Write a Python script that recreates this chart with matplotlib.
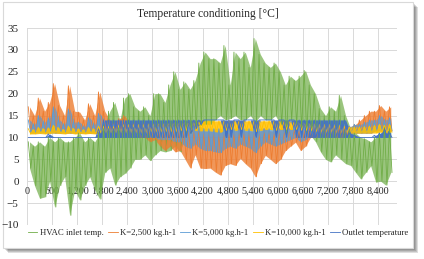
import numpy as np
import matplotlib
matplotlib.use('Agg')
import matplotlib.pyplot as plt
from matplotlib.patches import Rectangle

plt.rcParams['font.family'] = ['Liberation Serif', 'DejaVu Serif']

# hourly year split in 120 h blocks, (high, low) per block
block_hours = 120
inlet_hi = [9, 8, 9, 8, 10, 9, 10, 9, 9, 10, 11, 9, 10, 9, 11, 13, 16, 18, 14, 19,
            20, 17, 16, 17, 15, 20, 20, 18, 22, 25, 21, 22.7, 21, 23, 27, 29.5, 28, 28, 27, 31,
            22, 29.5, 28, 29.5, 26, 32.6, 29, 27, 26, 27, 25, 22, 24, 23, 24, 25.3, 22, 20, 16.6, 15,
            17, 16, 19.6, 15, 12, 11, 10, 9.7, 9, 10, 11, 12.8, 12]
inlet_lo = [3, -1, -3.9, -3.6, 0, -5.9, -1, 1, -7.8, -2, -4.3, -1, 1, -2, -4.1, 2, 3, -0.9, 1, 1.8,
            3, 5, 5, 6, 4.7, 6, 7, 6.7, 7, 8, 6.7, 10, 11, 12, 12.8, 13, 13, 14, 15, 14,
            14.3, 15, 14, 14, 15, 13.5, 15, 14, 14, 15, 13, 10.5, 14, 13, 12, 11, 10.5, 9, 6.7, 5,
            4.4, 6, 5, 4, 3.6, 2, 0.5, 2, 3.5, -0.2, 0, -0.9, 2]

k2500_hi = [17, 15, 19, 16, 18, 22.3, 17.3, 15, 21.8, 16, 15.8, 14, 17.7, 15, 20.4, 16, 14, 13.5, 14.3, 15,
            13, 13.5, 13, 13.5, 13, 13, 12.5, 13, 12.5, 12, 12.5, 12, 12, 12, 12, 11.5, 11.5, 11.5, 11.5, 11.5,
            12, 11.5, 12, 11.5, 11.5, 11.5, 11.5, 12, 11.5, 11.5, 12, 12, 12, 12, 12, 12, 12.5, 13, 13, 13,
            13, 13, 12.5, 12.5, 12.5, 13, 14, 15, 16, 16, 17.3, 16, 17]
k2500_lo = [11, 11, 11.5, 11, 11.5, 11, 11, 11, 11, 11, 11, 11, 11, 11, 11, 11, 11, 11, 10.5, 11,
            10.5, 10.5, 10, 10, 9, 9.5, 8, 7, 8, 6.7, 7, 5, 3, 6, 3, 2.9, 3, 2.1, 1.4, 3.6,
            4, 3.6, 5.2, 4, 3, 1.0, 4, 5.9, 5, 4, 5, 7, 8, 8.9, 7, 8, 10, 10, 10.5, 10,
            10.5, 10, 10, 10.5, 11, 11, 11, 11, 11, 11.5, 11.5, 11, 11.5]

k5000_hi = [14, 13, 15, 13.5, 14.5, 17, 14, 13, 16.5, 13.5, 13.5, 12.5, 14.5, 13, 15.5, 14, 13, 13, 13, 13,
            13, 13, 13, 13, 13, 13, 12.5, 12.5, 12.5, 12.5, 12.5, 12.5, 12.5, 12.5, 12.5, 12, 12, 12, 12, 12,
            12, 12, 12, 12, 12, 12, 12, 12, 12, 12, 12, 12, 12, 12.5, 12.5, 12.5, 13, 13, 13, 13,
            13, 13, 13, 13, 12.5, 13, 13, 13.5, 14, 14, 15, 14, 14.5]
k5000_lo = [11, 11, 11, 11, 11, 11, 11, 11, 11, 11, 11, 11, 11, 11, 11, 11, 11, 11, 11, 11,
            11, 10.5, 10.5, 10.5, 10, 10, 9.5, 9.5, 9.5, 9, 9, 8, 7.5, 8.5, 7.5, 7, 7, 6.7, 6.5, 7.5,
            8, 7.5, 8.5, 8, 7.5, 6.5, 8, 9, 8.5, 8, 8.5, 9, 9.5, 10, 9, 9.5, 10.5, 10.5, 11, 11,
            11, 11, 11, 11, 11, 11, 11, 11, 11, 11.5, 11.5, 11, 11.5]

k10000_hi = [12, 11.8, 12.3, 12, 12.2, 12.8, 12.2, 11.8, 12.6, 12, 12, 11.8, 12.3, 12, 12.6, 12.5, 12.5, 12.5, 12.8, 13,
             13, 13, 13, 13, 13.2, 13.2, 13.3, 13.3, 13.4, 13.5, 13.5, 13.6, 13.7, 13.7, 13.8, 13.8, 13.8, 13.8, 13.8, 13.8,
             13.8, 13.8, 13.8, 13.8, 13.8, 13.8, 13.8, 13.8, 13.8, 13.8, 13.8, 13.7, 13.7, 13.6, 13.5, 13.4, 13.3, 13.2, 13, 13,
             13, 12.8, 12.8, 12.6, 12.4, 12.4, 12.4, 12.5, 12.6, 12.8, 13, 12.8, 13]
k10000_lo = [10.8, 10.8, 10.9, 10.8, 10.9, 11, 10.9, 10.8, 11, 10.8, 10.9, 10.8, 10.9, 10.8, 11, 11, 11, 11, 11, 11,
             11, 11, 11, 11, 11.2, 11.2, 11.2, 11.3, 11.3, 11.3, 11.5, 11.5, 11.2, 11.6, 11.5, 11.5, 11.5, 11.3, 11.2, 11.6,
             11.8, 11.6, 11.8, 11.6, 11.6, 11.3, 11.6, 11.8, 11.8, 11.6, 11.8, 11.8, 11.8, 11.8, 11.6, 11.6, 11.5, 11.3, 11.2, 11.2,
             11.2, 11, 11, 11, 11, 11, 11, 11, 11, 11, 11.2, 11, 11.2]

outlet_hi = [10, 10, 10, 10, 10.8, 10, 10, 10, 10, 10, 10, 10, 10, 10, 12, 14, 14, 14, 14, 14,
             14, 14, 14, 14, 14, 14, 14, 14, 14, 14, 14, 14, 14, 14, 14, 14, 14, 14, 14, 14,
             14, 14, 14, 14, 14, 14, 14, 14, 14, 14, 14, 14, 14, 14, 14, 14, 14, 14, 14, 14,
             14, 14, 14, 14, 11, 10.5, 10, 10, 10, 10.5, 11, 12, 11]
outlet_lo = [10, 10, 10, 10, 10, 10, 10, 10, 10, 10, 10, 10, 10, 10, 10, 10, 10, 10, 10, 10,
             10, 10, 10, 10, 10, 10, 10, 10, 10, 10, 10, 10, 11, 12, 13, 14, 14, 14, 14, 10,
             10, 14, 10, 14, 14, 10, 14, 14, 14, 10, 14, 10, 14, 10, 10, 10, 10, 10, 10, 10,
             10, 10, 10, 10, 10, 10, 10, 10, 10, 10, 10, 10, 10]

series = [
    ('HVAC inlet temp.', inlet_hi, inlet_lo, '#70AD47', 0.7),
    ('K=2,500 kg.h-1', k2500_hi, k2500_lo, '#ED7D31', 0.8),
    ('K=5,000 kg.h-1', k5000_hi, k5000_lo, '#5B9BD5', 0.8),
    ('K=10,000 kg.h-1', k10000_hi, k10000_lo, '#FFC000', 0.85),
    ('Outlet temperature', outlet_hi, outlet_lo, '#4472C4', 0.95),
]

fig = plt.figure(figsize=(4.24, 2.59), dpi=100)

# chart frame with a soft shadow
W, H = 424, 259
for k in range(5, 0, -1):
    fig.add_artist(Rectangle(((3 + k) / W, (1 - (248 + k) / H)), 410 / W, 246 / H,
                             transform=fig.transFigure, facecolor='#000000', alpha=0.13,
                             edgecolor='none', zorder=0))
fig.add_artist(Rectangle((3 / W, 1 - 248 / H), 410 / W, 246 / H, transform=fig.transFigure,
                         facecolor='white', edgecolor='#D9D9D9', lw=0.8, zorder=0.5))

ax = fig.add_axes([27 / W, 1 - 225 / H, 370 / W, 197 / H])
ax.set_zorder(2)
ax.set_facecolor('none')

starts = np.arange(len(inlet_hi)) * block_hours
xs = np.column_stack([starts + 30, starts + 90]).ravel()
mids = starts + 60
for name, hi, lo, col, a in series:
    ys = np.column_stack([hi, lo]).ravel()
    ax.fill_between(mids, lo, hi, color=col, alpha=a, lw=0)
    ax.plot(xs, ys, color=col, lw=0.6, label=name)

ax.set_xlim(0, 8850)
ax.set_ylim(-10, 35)
ax.set_yticks(np.arange(-10, 36, 5))
ax.set_xticks(np.arange(0, 8401, 600))
ax.set_xticklabels([f'{v:,}' for v in range(0, 8401, 600)])
ax.grid(True, color='#D9D9D9', lw=0.7)
ax.set_axisbelow(True)
for s in ['top', 'right', 'left']:
    ax.spines[s].set_visible(False)
ax.spines['bottom'].set_position(('data', 0))
ax.spines['bottom'].set_visible(False)
ax.tick_params(axis='both', length=0, colors='#262626')
ax.tick_params(axis='x', pad=4, labelsize=7.3)
ax.tick_params(axis='y', pad=6, labelsize=8)

fig.text(208 / W, 1 - 14 / H, 'Temperature conditioning [°C]', ha='center', va='center',
         fontsize=8.3, color='#262626', zorder=3)

leg = fig.legend(loc='center', bbox_to_anchor=(218 / W, 1 - 233 / H), ncol=5, frameon=False,
                 fontsize=6.35, handlelength=1.1, handletextpad=0.25, columnspacing=0.5,
                 borderaxespad=0, labelcolor='#262626')
leg.set_zorder(3)

fig.savefig('out.png', dpi=100)
